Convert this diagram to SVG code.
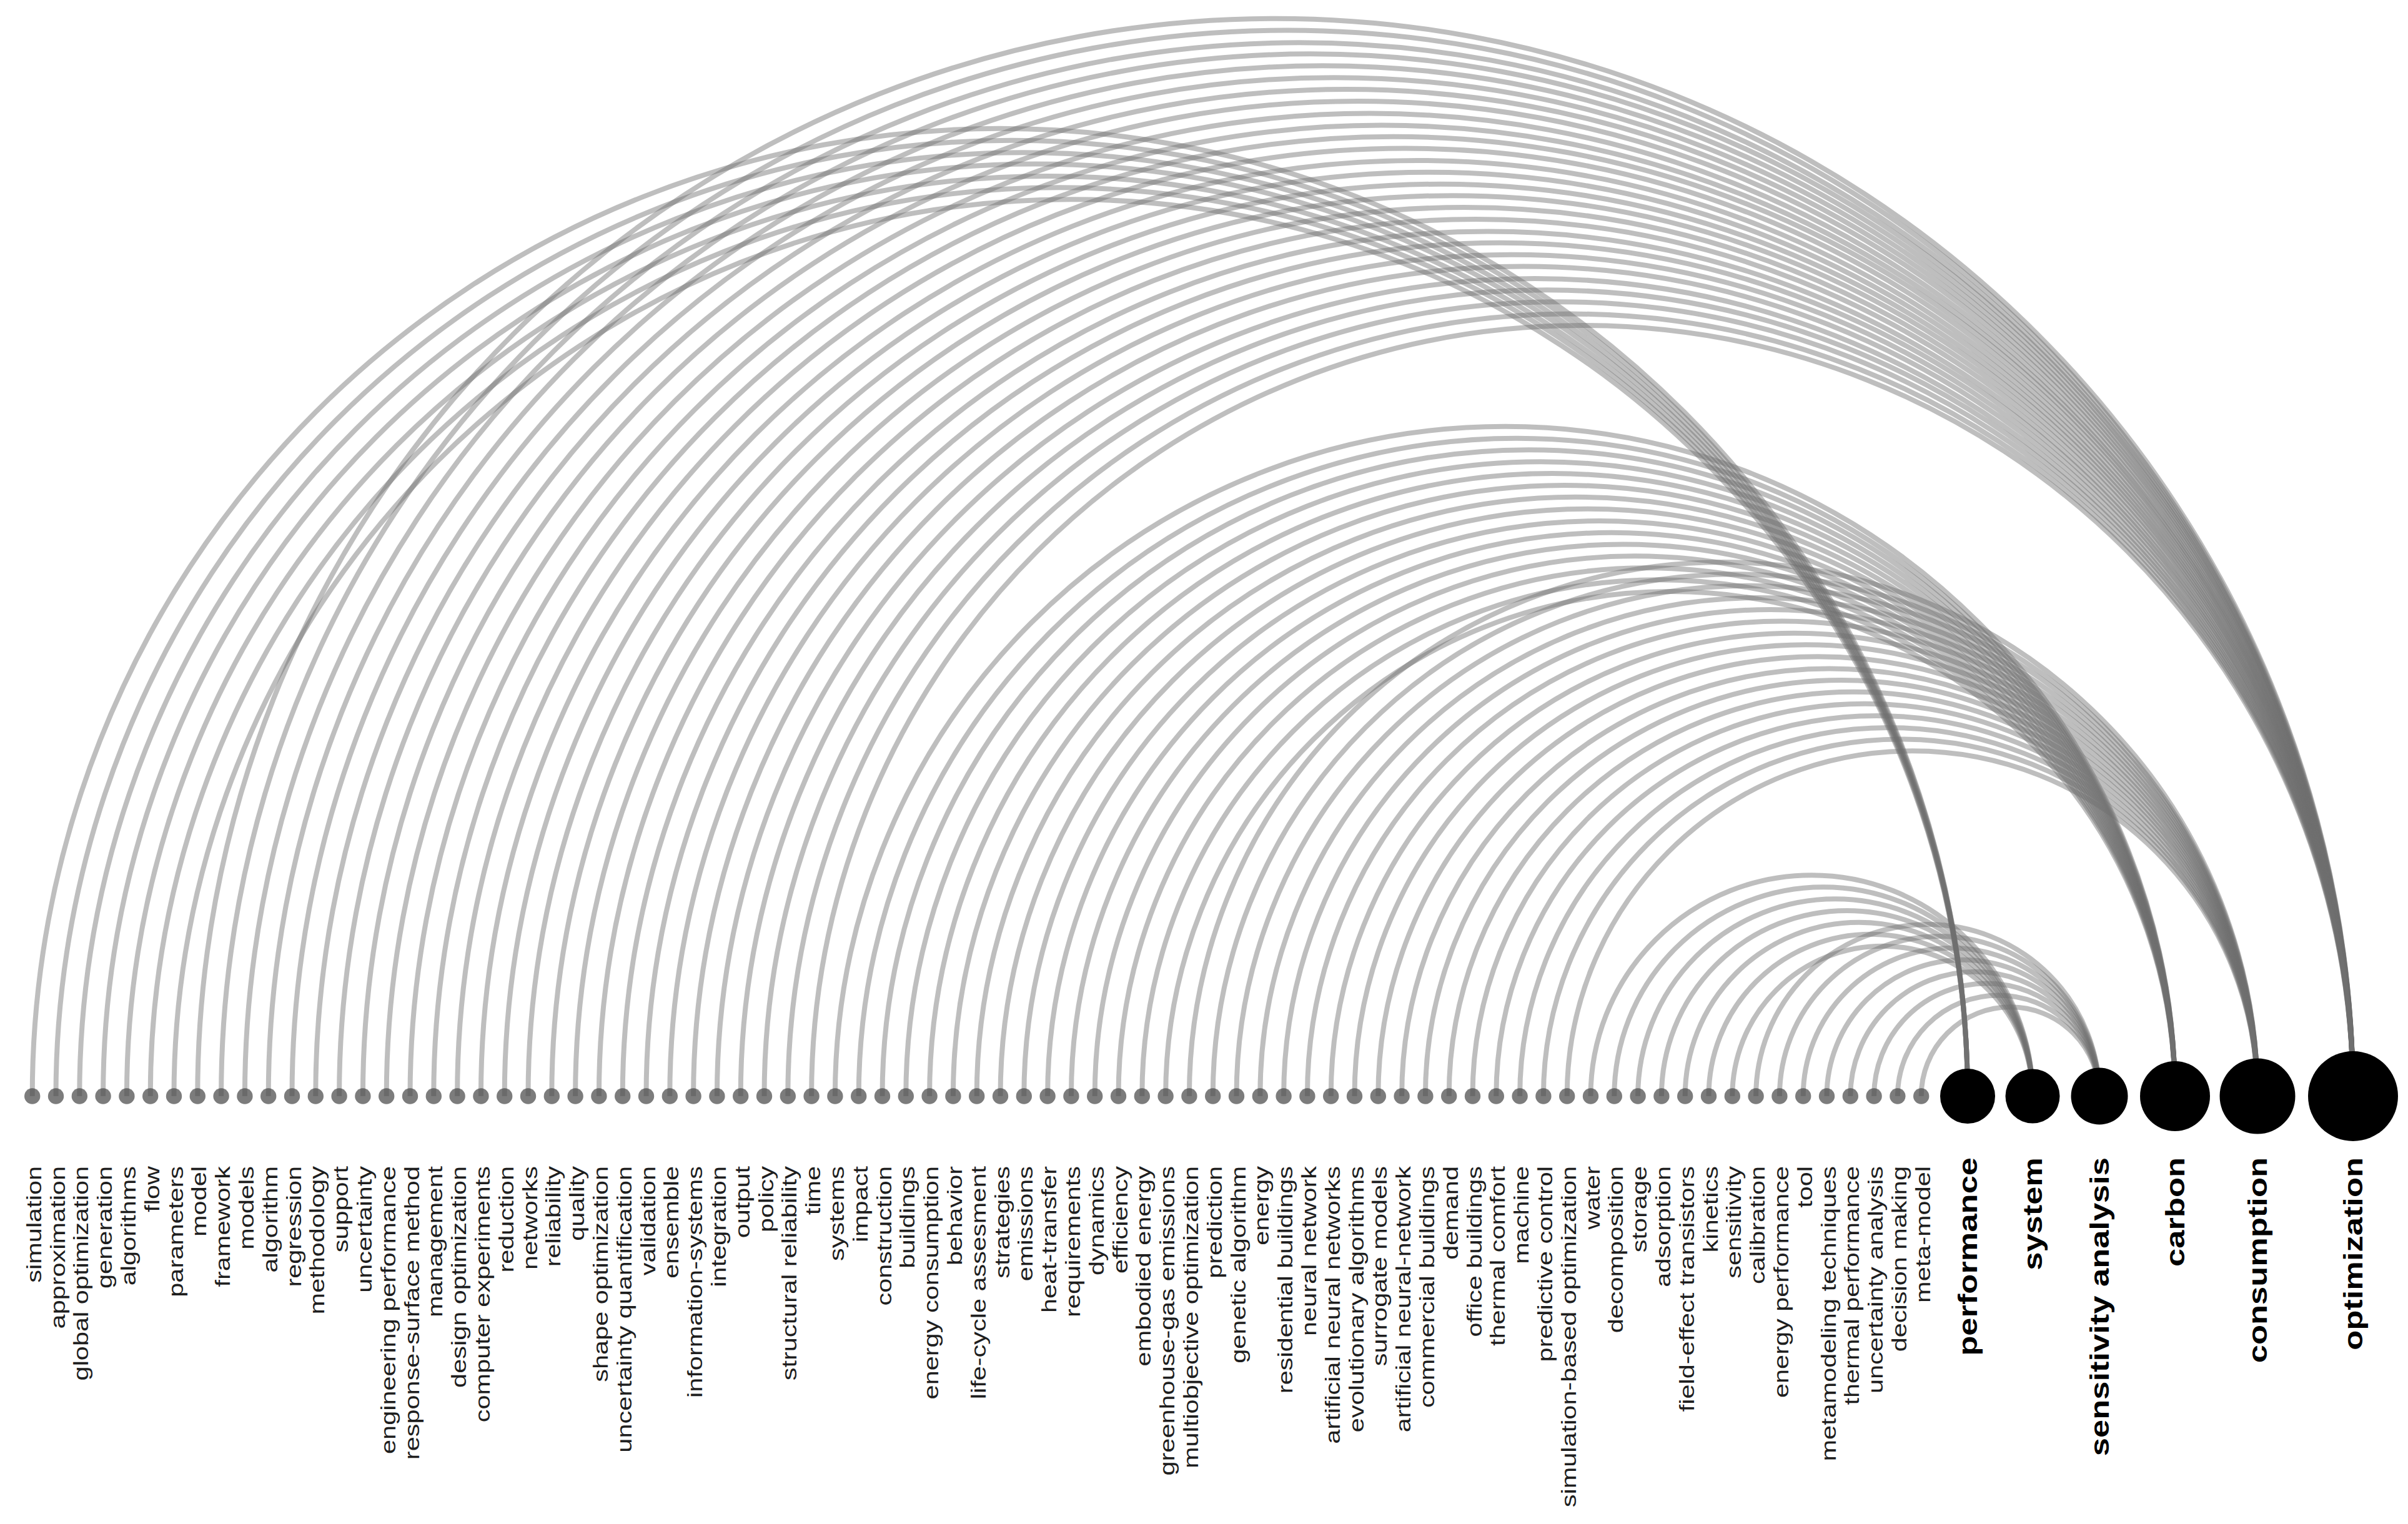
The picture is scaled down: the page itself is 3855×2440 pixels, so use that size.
<svg xmlns="http://www.w3.org/2000/svg" width="3855" height="2440" viewBox="0 0 3855 2440">
<style>
.arc{fill:none;stroke:#6e6e6e;stroke-opacity:.45;stroke-width:8}
.dot{fill:#4a4a4a;fill-opacity:.72}
.hub{fill:#000}
.lbl{font-family:"Liberation Sans",Arial,sans-serif;font-size:34px;fill:#1e1e1e;text-anchor:end}
.hlbl{font-family:"Liberation Sans",Arial,sans-serif;font-size:43px;font-weight:bold;fill:#000;text-anchor:end}
</style>
<rect width="3855" height="2440" fill="#fff"/>
<g id="connectors">
<path class="arc" d="M51.7 1755A1549.15 1549.15 0 0 1 3150 1755"/>
<path class="arc" d="M89.5 1755A1530.25 1530.25 0 0 1 3150 1755"/>
<path class="arc" d="M127.3 1755A1511.35 1511.35 0 0 1 3150 1755"/>
<path class="arc" d="M165.1 1755A1492.45 1492.45 0 0 1 3150 1755"/>
<path class="arc" d="M202.9 1755A1473.55 1473.55 0 0 1 3150 1755"/>
<path class="arc" d="M240.7 1755A1454.65 1454.65 0 0 1 3150 1755"/>
<path class="arc" d="M278.5 1755A1435.75 1435.75 0 0 1 3150 1755"/>
<path class="arc" d="M316.3 1755A1725.35 1725.35 0 0 1 3767 1755"/>
<path class="arc" d="M354.1 1755A1706.45 1706.45 0 0 1 3767 1755"/>
<path class="arc" d="M391.9 1755A1687.55 1687.55 0 0 1 3767 1755"/>
<path class="arc" d="M429.7 1755A1668.65 1668.65 0 0 1 3767 1755"/>
<path class="arc" d="M467.5 1755A1649.75 1649.75 0 0 1 3767 1755"/>
<path class="arc" d="M505.3 1755A1630.85 1630.85 0 0 1 3767 1755"/>
<path class="arc" d="M543.1 1755A1611.95 1611.95 0 0 1 3767 1755"/>
<path class="arc" d="M580.9 1755A1593.05 1593.05 0 0 1 3767 1755"/>
<path class="arc" d="M618.7 1755A1574.15 1574.15 0 0 1 3767 1755"/>
<path class="arc" d="M656.5 1755A1555.25 1555.25 0 0 1 3767 1755"/>
<path class="arc" d="M694.3 1755A1536.35 1536.35 0 0 1 3767 1755"/>
<path class="arc" d="M732.1 1755A1517.45 1517.45 0 0 1 3767 1755"/>
<path class="arc" d="M769.9 1755A1498.55 1498.55 0 0 1 3767 1755"/>
<path class="arc" d="M807.7 1755A1479.65 1479.65 0 0 1 3767 1755"/>
<path class="arc" d="M845.5 1755A1460.75 1460.75 0 0 1 3767 1755"/>
<path class="arc" d="M883.3 1755A1441.85 1441.85 0 0 1 3767 1755"/>
<path class="arc" d="M921.1 1755A1422.95 1422.95 0 0 1 3767 1755"/>
<path class="arc" d="M958.9 1755A1404.05 1404.05 0 0 1 3767 1755"/>
<path class="arc" d="M996.7 1755A1385.15 1385.15 0 0 1 3767 1755"/>
<path class="arc" d="M1034.5 1755A1366.25 1366.25 0 0 1 3767 1755"/>
<path class="arc" d="M1072.3 1755A1347.35 1347.35 0 0 1 3767 1755"/>
<path class="arc" d="M1110.1 1755A1328.45 1328.45 0 0 1 3767 1755"/>
<path class="arc" d="M1147.9 1755A1309.55 1309.55 0 0 1 3767 1755"/>
<path class="arc" d="M1185.7 1755A1290.65 1290.65 0 0 1 3767 1755"/>
<path class="arc" d="M1223.5 1755A1271.75 1271.75 0 0 1 3767 1755"/>
<path class="arc" d="M1261.3 1755A1252.85 1252.85 0 0 1 3767 1755"/>
<path class="arc" d="M1299.1 1755A1233.95 1233.95 0 0 1 3767 1755"/>
<path class="arc" d="M1336.9 1755A1072.55 1072.55 0 0 1 3482 1755"/>
<path class="arc" d="M1374.7 1755A1053.65 1053.65 0 0 1 3482 1755"/>
<path class="arc" d="M1412.5 1755A1034.75 1034.75 0 0 1 3482 1755"/>
<path class="arc" d="M1450.3 1755A1015.85 1015.85 0 0 1 3482 1755"/>
<path class="arc" d="M1488.1 1755A996.95 996.95 0 0 1 3482 1755"/>
<path class="arc" d="M1525.9 1755A978.05 978.05 0 0 1 3482 1755"/>
<path class="arc" d="M1563.7 1755A959.15 959.15 0 0 1 3482 1755"/>
<path class="arc" d="M1601.5 1755A940.25 940.25 0 0 1 3482 1755"/>
<path class="arc" d="M1639.3 1755A921.35 921.35 0 0 1 3482 1755"/>
<path class="arc" d="M1677.1 1755A902.45 902.45 0 0 1 3482 1755"/>
<path class="arc" d="M1714.9 1755A883.55 883.55 0 0 1 3482 1755"/>
<path class="arc" d="M1752.7 1755A864.65 864.65 0 0 1 3482 1755"/>
<path class="arc" d="M1790.5 1755A845.75 845.75 0 0 1 3482 1755"/>
<path class="arc" d="M1828.3 1755A826.85 826.85 0 0 1 3482 1755"/>
<path class="arc" d="M1866.1 1755A807.95 807.95 0 0 1 3482 1755"/>
<path class="arc" d="M1903.9 1755A855.05 855.05 0 0 1 3614 1755"/>
<path class="arc" d="M1941.7 1755A836.15 836.15 0 0 1 3614 1755"/>
<path class="arc" d="M1979.5 1755A817.25 817.25 0 0 1 3614 1755"/>
<path class="arc" d="M2017.3 1755A798.35 798.35 0 0 1 3614 1755"/>
<path class="arc" d="M2055.1 1755A779.45 779.45 0 0 1 3614 1755"/>
<path class="arc" d="M2092.9 1755A760.55 760.55 0 0 1 3614 1755"/>
<path class="arc" d="M2130.7 1755A741.65 741.65 0 0 1 3614 1755"/>
<path class="arc" d="M2168.5 1755A722.75 722.75 0 0 1 3614 1755"/>
<path class="arc" d="M2206.3 1755A703.85 703.85 0 0 1 3614 1755"/>
<path class="arc" d="M2244.1 1755A684.95 684.95 0 0 1 3614 1755"/>
<path class="arc" d="M2281.9 1755A666.05 666.05 0 0 1 3614 1755"/>
<path class="arc" d="M2319.7 1755A647.15 647.15 0 0 1 3614 1755"/>
<path class="arc" d="M2357.5 1755A628.25 628.25 0 0 1 3614 1755"/>
<path class="arc" d="M2395.3 1755A609.35 609.35 0 0 1 3614 1755"/>
<path class="arc" d="M2433.1 1755A590.45 590.45 0 0 1 3614 1755"/>
<path class="arc" d="M2470.9 1755A571.55 571.55 0 0 1 3614 1755"/>
<path class="arc" d="M2508.7 1755A552.65 552.65 0 0 1 3614 1755"/>
<path class="arc" d="M2546.5 1755A353.75 353.75 0 0 1 3254 1755"/>
<path class="arc" d="M2584.3 1755A334.85 334.85 0 0 1 3254 1755"/>
<path class="arc" d="M2622.1 1755A315.95 315.95 0 0 1 3254 1755"/>
<path class="arc" d="M2659.9 1755A297.05 297.05 0 0 1 3254 1755"/>
<path class="arc" d="M2697.7 1755A278.15 278.15 0 0 1 3254 1755"/>
<path class="arc" d="M2735.5 1755A259.25 259.25 0 0 1 3254 1755"/>
<path class="arc" d="M2773.3 1755A240.35 240.35 0 0 1 3254 1755"/>
<path class="arc" d="M2811.1 1755A274.95 274.95 0 0 1 3361 1755"/>
<path class="arc" d="M2848.9 1755A256.05 256.05 0 0 1 3361 1755"/>
<path class="arc" d="M2886.7 1755A237.15 237.15 0 0 1 3361 1755"/>
<path class="arc" d="M2924.5 1755A218.25 218.25 0 0 1 3361 1755"/>
<path class="arc" d="M2962.3 1755A199.35 199.35 0 0 1 3361 1755"/>
<path class="arc" d="M3000.1 1755A180.45 180.45 0 0 1 3361 1755"/>
<path class="arc" d="M3037.9 1755A161.55 161.55 0 0 1 3361 1755"/>
<path class="arc" d="M3075.7 1755A142.65 142.65 0 0 1 3361 1755"/>
</g>
<g id="keywords">
<g id="n00"><circle class="dot" cx="51.7" cy="1755" r="12.7"/><text class="lbl" transform="translate(65.7 1867) rotate(-90) scale(1.22 1)">simulation</text></g>
<g id="n01"><circle class="dot" cx="89.5" cy="1755" r="12.7"/><text class="lbl" transform="translate(103.5 1867) rotate(-90) scale(1.22 1)">approximation</text></g>
<g id="n02"><circle class="dot" cx="127.3" cy="1755" r="12.7"/><text class="lbl" transform="translate(141.3 1867) rotate(-90) scale(1.22 1)">global optimization</text></g>
<g id="n03"><circle class="dot" cx="165.1" cy="1755" r="12.7"/><text class="lbl" transform="translate(179.1 1867) rotate(-90) scale(1.22 1)">generation</text></g>
<g id="n04"><circle class="dot" cx="202.9" cy="1755" r="12.7"/><text class="lbl" transform="translate(216.9 1867) rotate(-90) scale(1.22 1)">algorithms</text></g>
<g id="n05"><circle class="dot" cx="240.7" cy="1755" r="12.7"/><text class="lbl" transform="translate(254.7 1867) rotate(-90) scale(1.22 1)">flow</text></g>
<g id="n06"><circle class="dot" cx="278.5" cy="1755" r="12.7"/><text class="lbl" transform="translate(292.5 1867) rotate(-90) scale(1.22 1)">parameters</text></g>
<g id="n07"><circle class="dot" cx="316.3" cy="1755" r="12.7"/><text class="lbl" transform="translate(330.3 1867) rotate(-90) scale(1.22 1)">model</text></g>
<g id="n08"><circle class="dot" cx="354.1" cy="1755" r="12.7"/><text class="lbl" transform="translate(368.1 1867) rotate(-90) scale(1.22 1)">framework</text></g>
<g id="n09"><circle class="dot" cx="391.9" cy="1755" r="12.7"/><text class="lbl" transform="translate(405.9 1867) rotate(-90) scale(1.22 1)">models</text></g>
<g id="n10"><circle class="dot" cx="429.7" cy="1755" r="12.7"/><text class="lbl" transform="translate(443.7 1867) rotate(-90) scale(1.22 1)">algorithm</text></g>
<g id="n11"><circle class="dot" cx="467.5" cy="1755" r="12.7"/><text class="lbl" transform="translate(481.5 1867) rotate(-90) scale(1.22 1)">regression</text></g>
<g id="n12"><circle class="dot" cx="505.3" cy="1755" r="12.7"/><text class="lbl" transform="translate(519.3 1867) rotate(-90) scale(1.22 1)">methodology</text></g>
<g id="n13"><circle class="dot" cx="543.1" cy="1755" r="12.7"/><text class="lbl" transform="translate(557.1 1867) rotate(-90) scale(1.22 1)">support</text></g>
<g id="n14"><circle class="dot" cx="580.9" cy="1755" r="12.7"/><text class="lbl" transform="translate(594.9 1867) rotate(-90) scale(1.22 1)">uncertainty</text></g>
<g id="n15"><circle class="dot" cx="618.7" cy="1755" r="12.7"/><text class="lbl" transform="translate(632.7 1867) rotate(-90) scale(1.22 1)">engineering performance</text></g>
<g id="n16"><circle class="dot" cx="656.5" cy="1755" r="12.7"/><text class="lbl" transform="translate(670.5 1867) rotate(-90) scale(1.22 1)">response-surface method</text></g>
<g id="n17"><circle class="dot" cx="694.3" cy="1755" r="12.7"/><text class="lbl" transform="translate(708.3 1867) rotate(-90) scale(1.22 1)">management</text></g>
<g id="n18"><circle class="dot" cx="732.1" cy="1755" r="12.7"/><text class="lbl" transform="translate(746.1 1867) rotate(-90) scale(1.22 1)">design optimization</text></g>
<g id="n19"><circle class="dot" cx="769.9" cy="1755" r="12.7"/><text class="lbl" transform="translate(783.9 1867) rotate(-90) scale(1.22 1)">computer experiments</text></g>
<g id="n20"><circle class="dot" cx="807.7" cy="1755" r="12.7"/><text class="lbl" transform="translate(821.7 1867) rotate(-90) scale(1.22 1)">reduction</text></g>
<g id="n21"><circle class="dot" cx="845.5" cy="1755" r="12.7"/><text class="lbl" transform="translate(859.5 1867) rotate(-90) scale(1.22 1)">networks</text></g>
<g id="n22"><circle class="dot" cx="883.3" cy="1755" r="12.7"/><text class="lbl" transform="translate(897.3 1867) rotate(-90) scale(1.22 1)">reliability</text></g>
<g id="n23"><circle class="dot" cx="921.1" cy="1755" r="12.7"/><text class="lbl" transform="translate(935.1 1867) rotate(-90) scale(1.22 1)">quality</text></g>
<g id="n24"><circle class="dot" cx="958.9" cy="1755" r="12.7"/><text class="lbl" transform="translate(972.9 1867) rotate(-90) scale(1.22 1)">shape optimization</text></g>
<g id="n25"><circle class="dot" cx="996.7" cy="1755" r="12.7"/><text class="lbl" transform="translate(1010.7 1867) rotate(-90) scale(1.22 1)">uncertainty quantification</text></g>
<g id="n26"><circle class="dot" cx="1034.5" cy="1755" r="12.7"/><text class="lbl" transform="translate(1048.5 1867) rotate(-90) scale(1.22 1)">validation</text></g>
<g id="n27"><circle class="dot" cx="1072.3" cy="1755" r="12.7"/><text class="lbl" transform="translate(1086.3 1867) rotate(-90) scale(1.22 1)">ensemble</text></g>
<g id="n28"><circle class="dot" cx="1110.1" cy="1755" r="12.7"/><text class="lbl" transform="translate(1124.1 1867) rotate(-90) scale(1.22 1)">information-systems</text></g>
<g id="n29"><circle class="dot" cx="1147.9" cy="1755" r="12.7"/><text class="lbl" transform="translate(1161.9 1867) rotate(-90) scale(1.22 1)">integration</text></g>
<g id="n30"><circle class="dot" cx="1185.7" cy="1755" r="12.7"/><text class="lbl" transform="translate(1199.7 1867) rotate(-90) scale(1.22 1)">output</text></g>
<g id="n31"><circle class="dot" cx="1223.5" cy="1755" r="12.7"/><text class="lbl" transform="translate(1237.5 1867) rotate(-90) scale(1.22 1)">policy</text></g>
<g id="n32"><circle class="dot" cx="1261.3" cy="1755" r="12.7"/><text class="lbl" transform="translate(1275.3 1867) rotate(-90) scale(1.22 1)">structural reliability</text></g>
<g id="n33"><circle class="dot" cx="1299.1" cy="1755" r="12.7"/><text class="lbl" transform="translate(1313.1 1867) rotate(-90) scale(1.22 1)">time</text></g>
<g id="n34"><circle class="dot" cx="1336.9" cy="1755" r="12.7"/><text class="lbl" transform="translate(1350.9 1867) rotate(-90) scale(1.22 1)">systems</text></g>
<g id="n35"><circle class="dot" cx="1374.7" cy="1755" r="12.7"/><text class="lbl" transform="translate(1388.7 1867) rotate(-90) scale(1.22 1)">impact</text></g>
<g id="n36"><circle class="dot" cx="1412.5" cy="1755" r="12.7"/><text class="lbl" transform="translate(1426.5 1867) rotate(-90) scale(1.22 1)">construction</text></g>
<g id="n37"><circle class="dot" cx="1450.3" cy="1755" r="12.7"/><text class="lbl" transform="translate(1464.3 1867) rotate(-90) scale(1.22 1)">buildings</text></g>
<g id="n38"><circle class="dot" cx="1488.1" cy="1755" r="12.7"/><text class="lbl" transform="translate(1502.1 1867) rotate(-90) scale(1.22 1)">energy consumption</text></g>
<g id="n39"><circle class="dot" cx="1525.9" cy="1755" r="12.7"/><text class="lbl" transform="translate(1539.9 1867) rotate(-90) scale(1.22 1)">behavior</text></g>
<g id="n40"><circle class="dot" cx="1563.7" cy="1755" r="12.7"/><text class="lbl" transform="translate(1577.7 1867) rotate(-90) scale(1.22 1)">life-cycle assesment</text></g>
<g id="n41"><circle class="dot" cx="1601.5" cy="1755" r="12.7"/><text class="lbl" transform="translate(1615.5 1867) rotate(-90) scale(1.22 1)">strategies</text></g>
<g id="n42"><circle class="dot" cx="1639.3" cy="1755" r="12.7"/><text class="lbl" transform="translate(1653.3 1867) rotate(-90) scale(1.22 1)">emissions</text></g>
<g id="n43"><circle class="dot" cx="1677.1" cy="1755" r="12.7"/><text class="lbl" transform="translate(1691.1 1867) rotate(-90) scale(1.22 1)">heat-transfer</text></g>
<g id="n44"><circle class="dot" cx="1714.9" cy="1755" r="12.7"/><text class="lbl" transform="translate(1728.9 1867) rotate(-90) scale(1.22 1)">requirements</text></g>
<g id="n45"><circle class="dot" cx="1752.7" cy="1755" r="12.7"/><text class="lbl" transform="translate(1766.7 1867) rotate(-90) scale(1.22 1)">dynamics</text></g>
<g id="n46"><circle class="dot" cx="1790.5" cy="1755" r="12.7"/><text class="lbl" transform="translate(1804.5 1867) rotate(-90) scale(1.22 1)">efficiency</text></g>
<g id="n47"><circle class="dot" cx="1828.3" cy="1755" r="12.7"/><text class="lbl" transform="translate(1842.3 1867) rotate(-90) scale(1.22 1)">embodied energy</text></g>
<g id="n48"><circle class="dot" cx="1866.1" cy="1755" r="12.7"/><text class="lbl" transform="translate(1880.1 1867) rotate(-90) scale(1.22 1)">greenhouse-gas emissions</text></g>
<g id="n49"><circle class="dot" cx="1903.9" cy="1755" r="12.7"/><text class="lbl" transform="translate(1917.9 1867) rotate(-90) scale(1.22 1)">multiobjective optimization</text></g>
<g id="n50"><circle class="dot" cx="1941.7" cy="1755" r="12.7"/><text class="lbl" transform="translate(1955.7 1867) rotate(-90) scale(1.22 1)">prediction</text></g>
<g id="n51"><circle class="dot" cx="1979.5" cy="1755" r="12.7"/><text class="lbl" transform="translate(1993.5 1867) rotate(-90) scale(1.22 1)">genetic algorithm</text></g>
<g id="n52"><circle class="dot" cx="2017.3" cy="1755" r="12.7"/><text class="lbl" transform="translate(2031.3 1867) rotate(-90) scale(1.22 1)">energy</text></g>
<g id="n53"><circle class="dot" cx="2055.1" cy="1755" r="12.7"/><text class="lbl" transform="translate(2069.1 1867) rotate(-90) scale(1.22 1)">residential buildings</text></g>
<g id="n54"><circle class="dot" cx="2092.9" cy="1755" r="12.7"/><text class="lbl" transform="translate(2106.9 1867) rotate(-90) scale(1.22 1)">neural network</text></g>
<g id="n55"><circle class="dot" cx="2130.7" cy="1755" r="12.7"/><text class="lbl" transform="translate(2144.7 1867) rotate(-90) scale(1.22 1)">artificial neural networks</text></g>
<g id="n56"><circle class="dot" cx="2168.5" cy="1755" r="12.7"/><text class="lbl" transform="translate(2182.5 1867) rotate(-90) scale(1.22 1)">evolutionary algorithms</text></g>
<g id="n57"><circle class="dot" cx="2206.3" cy="1755" r="12.7"/><text class="lbl" transform="translate(2220.3 1867) rotate(-90) scale(1.22 1)">surrogate models</text></g>
<g id="n58"><circle class="dot" cx="2244.1" cy="1755" r="12.7"/><text class="lbl" transform="translate(2258.1 1867) rotate(-90) scale(1.22 1)">artificial neural-network</text></g>
<g id="n59"><circle class="dot" cx="2281.9" cy="1755" r="12.7"/><text class="lbl" transform="translate(2295.9 1867) rotate(-90) scale(1.22 1)">commercial buildings</text></g>
<g id="n60"><circle class="dot" cx="2319.7" cy="1755" r="12.7"/><text class="lbl" transform="translate(2333.7 1867) rotate(-90) scale(1.22 1)">demand</text></g>
<g id="n61"><circle class="dot" cx="2357.5" cy="1755" r="12.7"/><text class="lbl" transform="translate(2371.5 1867) rotate(-90) scale(1.22 1)">office buildings</text></g>
<g id="n62"><circle class="dot" cx="2395.3" cy="1755" r="12.7"/><text class="lbl" transform="translate(2409.3 1867) rotate(-90) scale(1.22 1)">thermal comfort</text></g>
<g id="n63"><circle class="dot" cx="2433.1" cy="1755" r="12.7"/><text class="lbl" transform="translate(2447.1 1867) rotate(-90) scale(1.22 1)">machine</text></g>
<g id="n64"><circle class="dot" cx="2470.9" cy="1755" r="12.7"/><text class="lbl" transform="translate(2484.9 1867) rotate(-90) scale(1.22 1)">predictive control</text></g>
<g id="n65"><circle class="dot" cx="2508.7" cy="1755" r="12.7"/><text class="lbl" transform="translate(2522.7 1867) rotate(-90) scale(1.22 1)">simulation-based optimization</text></g>
<g id="n66"><circle class="dot" cx="2546.5" cy="1755" r="12.7"/><text class="lbl" transform="translate(2560.5 1867) rotate(-90) scale(1.22 1)">water</text></g>
<g id="n67"><circle class="dot" cx="2584.3" cy="1755" r="12.7"/><text class="lbl" transform="translate(2598.3 1867) rotate(-90) scale(1.22 1)">decomposition</text></g>
<g id="n68"><circle class="dot" cx="2622.1" cy="1755" r="12.7"/><text class="lbl" transform="translate(2636.1 1867) rotate(-90) scale(1.22 1)">storage</text></g>
<g id="n69"><circle class="dot" cx="2659.9" cy="1755" r="12.7"/><text class="lbl" transform="translate(2673.9 1867) rotate(-90) scale(1.22 1)">adsorption</text></g>
<g id="n70"><circle class="dot" cx="2697.7" cy="1755" r="12.7"/><text class="lbl" transform="translate(2711.7 1867) rotate(-90) scale(1.22 1)">field-effect transistors</text></g>
<g id="n71"><circle class="dot" cx="2735.5" cy="1755" r="12.7"/><text class="lbl" transform="translate(2749.5 1867) rotate(-90) scale(1.22 1)">kinetics</text></g>
<g id="n72"><circle class="dot" cx="2773.3" cy="1755" r="12.7"/><text class="lbl" transform="translate(2787.3 1867) rotate(-90) scale(1.22 1)">sensitivity</text></g>
<g id="n73"><circle class="dot" cx="2811.1" cy="1755" r="12.7"/><text class="lbl" transform="translate(2825.1 1867) rotate(-90) scale(1.22 1)">calibration</text></g>
<g id="n74"><circle class="dot" cx="2848.9" cy="1755" r="12.7"/><text class="lbl" transform="translate(2862.9 1867) rotate(-90) scale(1.22 1)">energy performance</text></g>
<g id="n75"><circle class="dot" cx="2886.7" cy="1755" r="12.7"/><text class="lbl" transform="translate(2900.7 1867) rotate(-90) scale(1.22 1)">tool</text></g>
<g id="n76"><circle class="dot" cx="2924.5" cy="1755" r="12.7"/><text class="lbl" transform="translate(2938.5 1867) rotate(-90) scale(1.22 1)">metamodeling techniques</text></g>
<g id="n77"><circle class="dot" cx="2962.3" cy="1755" r="12.7"/><text class="lbl" transform="translate(2976.3 1867) rotate(-90) scale(1.22 1)">thermal performance</text></g>
<g id="n78"><circle class="dot" cx="3000.1" cy="1755" r="12.7"/><text class="lbl" transform="translate(3014.1 1867) rotate(-90) scale(1.22 1)">uncertainty analysis</text></g>
<g id="n79"><circle class="dot" cx="3037.9" cy="1755" r="12.7"/><text class="lbl" transform="translate(3051.9 1867) rotate(-90) scale(1.22 1)">decision making</text></g>
<g id="n80"><circle class="dot" cx="3075.7" cy="1755" r="12.7"/><text class="lbl" transform="translate(3089.7 1867) rotate(-90) scale(1.22 1)">meta-model</text></g>
</g>
<g id="hubs">
<g id="hub-performance"><circle class="hub" cx="3150" cy="1755" r="44"/><text class="hlbl" transform="translate(3165 1853) rotate(-90) scale(1.22 1)">performance</text></g>
<g id="hub-system"><circle class="hub" cx="3254" cy="1755" r="43.5"/><text class="hlbl" transform="translate(3269 1853) rotate(-90) scale(1.22 1)">system</text></g>
<g id="hub-sensitivity-analysis"><circle class="hub" cx="3361" cy="1755" r="45.5"/><text class="hlbl" transform="translate(3376 1853) rotate(-90) scale(1.22 1)">sensitivity analysis</text></g>
<g id="hub-carbon"><circle class="hub" cx="3482" cy="1755" r="56"/><text class="hlbl" transform="translate(3497 1853) rotate(-90) scale(1.22 1)">carbon</text></g>
<g id="hub-consumption"><circle class="hub" cx="3614" cy="1755" r="60.5"/><text class="hlbl" transform="translate(3629 1853) rotate(-90) scale(1.22 1)">consumption</text></g>
<g id="hub-optimization"><circle class="hub" cx="3767" cy="1755" r="72"/><text class="hlbl" transform="translate(3782 1853) rotate(-90) scale(1.22 1)">optimization</text></g>
</g>
</svg>
